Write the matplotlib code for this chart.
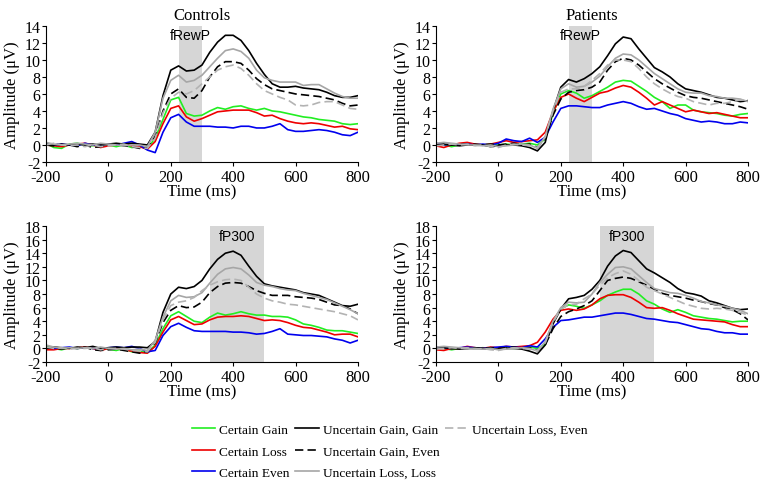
import numpy as np
import matplotlib
matplotlib.use("Agg")
import matplotlib.pyplot as plt
from matplotlib.lines import Line2D

plt.rcParams["font.family"] = "Liberation Serif"
plt.rcParams["axes.unicode_minus"] = False
plt.rcParams["axes.spines.top"] = False
plt.rcParams["axes.spines.right"] = False

# ---- data (µV), sampled every 25 ms from -200 to 800 ----
time_ms = np.arange(-200, 801, 25)

# Controls, fRewP window
cg_c1 = [0.2,-0.3,-0.4,0.1,0.2,0.0,-0.1,0.1,0.0,-0.2,0.0,-0.3,-0.2,-0.4, 0.8,3.0,5.3,5.6,3.7,3.4,3.5,4.0,4.4,4.2, 4.5,4.6,4.3,4.1,4.3,4.0,3.9,3.7,3.5,3.3, 3.2,3.0,2.9,2.8,2.5,2.4,2.5]
cl_c1 = [0.0,-0.1,-0.2,0.0,0.1,0.2,0.0,-0.3,-0.1,0.0,0.1,-0.1,-0.2,-0.5, 0.4,2.5,4.3,4.6,3.3,2.8,3.1,3.5,3.9,4.0, 4.1,4.1,4.1,3.8,3.4,3.5,3.1,2.8,2.6,2.5, 2.6,2.5,2.3,2.1,2.2,1.9,1.8]
ce_c1 = [0.1,0.0,0.1,0.0,-0.1,0.2,0.0,0.0,0.1,0.0,0.2,0.4,0.0,-0.6, -0.9,1.5,3.2,3.6,2.7,2.2,2.2,2.2,2.1,2.1, 2.0,2.2,2.2,2.0,2.0,2.2,2.5,1.8,1.6,1.6, 1.7,1.8,1.7,1.5,1.2,1.1,1.5]
ugg_c1 = [0.1,0.0,0.1,0.0,0.1,0.0,0.1,0.0,0.1,0.2,0.1,0.2,0.1,0.0, 1.5,5.8,8.8,9.3,8.7,8.8,9.4,10.9,12.1,12.9, 12.9,12.3,11.1,9.6,8.3,7.2,6.8,6.8,6.9,6.7, 6.6,6.5,6.2,5.8,5.6,5.6,5.8]
uge_c1 = [0.0,-0.1,0.0,0.0,-0.2,0.0,-0.3,-0.2,0.0,0.1,-0.1,-0.2,-0.4,-0.3, 1.0,4.0,6.0,6.6,5.6,5.5,6.4,8.0,9.2,9.8, 9.8,9.6,8.8,7.8,7.1,6.6,6.4,6.2,6.0,5.9, 5.8,5.7,5.5,5.3,4.9,4.6,4.7]
ull_c1 = [0.3,0.1,0.0,0.1,0.2,0.1,0.0,0.2,0.1,0.0,-0.1,0.0,0.0,-0.2, 1.5,5.5,7.6,8.2,7.4,7.6,8.2,9.2,10.2,11.1, 11.3,11.0,10.2,8.8,7.9,7.6,7.4,7.4,7.4,7.0, 7.1,7.1,6.6,6.1,5.7,5.5,5.5]
ule_c1 = [0.0,0.2,0.0,-0.1,0.0,-0.2,0.0,-0.2,-0.1,0.0,0.1,-0.2,-0.3,-0.4, 0.8,3.8,5.5,6.2,6.0,6.4,7.2,8.0,8.8,9.2, 9.4,9.0,8.2,7.2,6.4,6.0,5.6,5.3,4.7,4.6, 4.7,5.0,5.1,5.1,4.7,4.3,4.2]

# Patients, fRewP window
cg_p1 = [0.1,0.0,-0.2,0.0,0.2,0.0,0.0,0.1,0.0,0.1,0.0,0.1,0.2,0.0, 0.7,3.7,6.0,6.4,6.1,5.5,5.8,6.3,6.8,7.4, 7.6,7.5,6.9,6.3,5.6,5.1,4.3,4.7,4.7,4.1, 3.9,3.8,3.7,3.5,3.4,3.6,3.7]
cl_p1 = [-0.1,-0.3,0.0,0.2,0.3,0.1,0.0,0.1,0.3,0.5,0.3,0.4,0.5,0.6, 1.5,3.9,5.6,6.0,5.5,5.1,5.6,6.1,6.3,6.7, 7.0,6.8,6.2,5.5,4.7,5.1,4.7,4.3,3.9,4.1, 3.9,3.7,3.8,3.6,3.4,3.2,3.2]
ce_p1 = [0.2,0.0,0.1,0.0,0.1,0.0,0.1,0.0,0.2,0.7,0.5,0.4,0.8,0.3, 0.9,2.7,4.3,4.6,4.6,4.5,4.4,4.4,4.7,4.9, 5.1,4.9,4.5,4.2,4.3,4.0,3.7,3.5,3.1,2.9, 2.7,2.8,2.7,2.5,2.5,2.7,2.6]
ugg_p1 = [0.0,0.1,0.0,-0.1,0.0,0.0,0.0,-0.2,-0.1,0.0,0.0,-0.1,-0.3,-0.7, 0.3,4.0,6.8,7.7,7.4,7.8,8.4,9.2,10.5,11.9, 12.7,12.5,11.3,10.2,9.1,8.6,8.0,7.2,6.6,6.4, 6.2,5.9,5.6,5.5,5.3,5.1,5.2]
uge_p1 = [0.0,0.1,0.0,0.1,0.0,0.1,0.0,0.1,0.0,0.1,0.2,0.0,0.1,-0.3, 0.8,3.5,5.4,6.2,6.4,6.5,6.8,7.4,8.8,9.8, 10.2,10.0,9.4,8.6,7.8,7.2,6.7,6.2,5.8,5.6, 5.5,5.3,5.1,4.9,4.7,4.5,4.2]
ull_p1 = [0.2,0.3,0.2,0.1,0.0,0.0,-0.1,0.0,-0.2,-0.1,0.0,0.1,0.0,-0.4, 1.0,4.2,6.6,7.2,6.8,6.9,7.4,8.1,9.2,10.2, 10.7,10.6,10.0,9.2,8.4,7.8,7.2,6.6,6.2,6.1, 6.1,5.8,5.7,5.5,5.5,5.4,5.1]
ule_p1 = [-0.1,0.0,0.1,0.0,0.1,-0.1,0.0,-0.2,-0.3,0.0,0.1,0.0,-0.1,-0.3, 0.9,4.0,6.2,6.6,6.6,6.9,7.6,8.4,9.4,10.0, 10.0,9.8,9.0,8.0,7.2,6.6,6.1,5.7,5.5,5.1, 4.9,4.7,4.9,4.9,5.1,5.3,5.3]

# Controls, fP300 window
cg_c2 = [0.3,0.0,-0.2,0.1,0.0,0.1,0.0,0.1,-0.1,-0.3,0.0,-0.5,-0.4,-0.6, 0.5,2.9,4.8,5.4,4.7,4.0,3.8,4.6,5.2,4.9, 5.1,5.4,5.1,4.9,4.9,4.7,4.7,4.6,4.2,3.6, 3.4,3.1,2.7,2.6,2.6,2.4,2.2]
cl_c2 = [-0.2,-0.2,0.0,0.0,0.1,0.2,0.0,-0.3,0.0,0.1,-0.2,-0.4,-0.6,-0.7, 0.3,2.4,4.2,4.7,4.1,3.5,3.6,4.2,4.6,4.7, 4.7,4.8,4.7,4.4,4.1,4.2,4.1,3.8,3.4,3.1, 3.0,2.7,2.4,2.0,2.1,2.1,1.7]
ce_c2 = [0.1,0.0,0.1,0.2,0.0,0.1,0.0,0.0,0.1,0.2,0.1,0.3,0.0,-0.5, -0.3,1.9,3.2,3.7,3.1,2.6,2.5,2.5,2.5,2.5, 2.4,2.4,2.3,2.1,2.2,2.5,2.9,2.1,2.0,1.9, 1.9,1.8,1.7,1.4,1.2,0.8,1.2]
ugg_c2 = [0.1,0.2,0.1,0.0,0.2,0.1,0.3,0.0,0.1,0.2,0.1,0.2,0.2,0.1, 1.0,5.3,8.0,9.0,8.8,9.1,10.0,11.7,13.1,14.0, 14.3,13.7,12.1,10.6,9.5,9.2,9.0,8.8,8.6,8.2, 8.0,7.8,7.3,6.8,6.3,6.2,6.5]
uge_c2 = [0.0,0.1,-0.1,0.1,0.0,0.2,-0.2,-0.3,-0.2,-0.1,-0.3,-0.5,-0.7,-0.5, 0.8,3.8,5.6,6.3,6.0,6.1,6.8,8.2,9.1,9.6, 9.7,9.6,9.1,8.5,8.1,7.8,7.8,7.8,7.6,7.5, 7.4,7.2,6.8,6.4,6.3,5.8,5.1]
ull_c2 = [0.5,0.2,0.0,0.1,0.0,0.1,0.0,0.2,0.0,-0.1,0.0,-0.2,-0.1,-0.3, 1.2,4.6,7.0,7.8,7.5,7.6,8.2,9.6,10.9,11.7, 11.9,11.7,10.8,9.7,9.3,9.1,8.8,8.6,8.5,8.1, 7.8,7.5,7.2,6.7,6.2,5.7,5.1]
ule_c2 = [0.2,0.0,0.1,-0.1,0.0,0.0,0.1,-0.2,0.0,0.0,-0.1,-0.3,-0.4,-0.5, 0.9,4.2,6.3,6.8,7.0,7.5,8.5,9.3,9.8,10.1, 10.2,10.0,9.0,8.0,7.4,7.0,6.8,6.5,6.4,6.2, 6.0,5.8,5.6,5.4,5.1,4.8,4.2]

# Patients, fP300 window
cg_p2 = [0.1,0.0,-0.2,0.0,0.1,0.0,0.1,0.0,0.0,0.1,0.0,0.1,0.2,0.0, 0.6,3.9,5.8,6.4,6.2,5.9,6.4,7.0,7.8,8.3, 8.7,8.7,8.0,7.0,6.5,5.8,5.3,5.7,5.3,4.8, 4.6,4.4,4.3,4.1,3.9,4.0,4.0]
cl_p2 = [-0.2,-0.3,0.0,0.0,0.3,0.1,0.0,0.2,0.1,0.3,0.2,0.3,0.4,0.9, 2.4,4.3,5.6,5.8,5.6,5.8,6.4,7.3,7.8,7.9, 7.9,7.5,6.8,6.0,5.9,6.0,5.6,5.1,4.7,4.3, 4.2,4.1,4.0,3.9,3.5,3.2,3.2]
ce_p2 = [0.2,0.1,0.0,0.1,0.2,0.1,0.0,0.1,0.2,0.3,0.2,0.1,0.4,0.2, 1.4,3.1,4.1,4.2,4.4,4.6,4.6,4.8,5.0,5.2, 5.2,5.0,4.7,4.4,4.3,4.1,3.9,3.8,3.5,3.2, 2.9,2.8,2.5,2.3,2.3,2.1,2.1]
ugg_p2 = [0.0,0.1,0.0,-0.1,0.0,0.0,0.0,-0.1,-0.1,0.0,0.0,-0.1,-0.4,-0.8, 0.5,3.6,5.8,7.3,7.5,7.8,8.7,10.0,12.1,13.6, 14.4,14.1,12.9,11.7,11.1,10.4,9.7,8.8,8.2,8.0, 7.7,7.0,6.7,6.3,5.9,5.7,5.8]
uge_p2 = [0.0,0.1,0.0,0.1,0.0,0.1,0.0,0.1,0.0,0.1,0.2,0.0,0.1,-0.3, 0.5,2.9,4.7,5.4,5.8,6.3,7.0,8.5,10.0,10.3, 10.5,10.3,9.8,9.3,8.7,8.1,7.8,7.6,7.4,7.1, 6.9,6.6,6.4,6.0,5.7,5.1,4.2]
ull_p2 = [0.2,0.3,0.2,0.1,0.0,0.0,-0.1,0.0,-0.2,-0.1,0.0,0.1,0.0,-0.4, 1.0,4.0,6.0,6.8,6.7,6.8,8.0,9.7,10.9,11.9, 12.0,11.7,10.7,9.7,8.8,8.5,8.2,8.1,7.8,7.4, 6.9,6.7,6.4,6.2,5.9,5.6,5.1]
ule_p2 = [-0.1,0.0,0.1,0.0,0.1,-0.1,0.0,-0.2,-0.3,0.0,0.1,0.0,-0.1,-0.3, 0.8,3.8,5.8,6.4,6.5,7.3,8.0,9.3,10.4,11.0, 11.4,10.9,10.0,9.0,8.5,8.0,7.5,7.0,6.5,6.2, 5.9,5.8,5.9,5.8,5.6,5.3,4.9]

labels = ["Certain Gain", "Certain Loss", "Certain Even",
          "Uncertain Gain, Gain", "Uncertain Gain, Even",
          "Uncertain Loss, Loss", "Uncertain Loss, Even"]
colors = ["#22ee22", "#ee0000", "#0000ee", "black", "black", "#a6a6a6", "#b3b3b3"]
styles = ["-", "-", "-", "-", (0, (5, 2.5)), "-", (0, (5, 2.5))]

panels = [
    dict(series=[cg_c1, cl_c1, ce_c1, ugg_c1, uge_c1, ull_c1, ule_c1], title="Controls",
         win=(225, 300), name="fRewP", ymax=14, pos=[0.0605, 0.664, 0.4105, 0.2804]),
    dict(series=[cg_p1, cl_p1, ce_p1, ugg_p1, uge_p1, ull_p1, ule_p1], title="Patients",
         win=(225, 300), name="fRewP", ymax=14, pos=[0.5737, 0.664, 0.4105, 0.2804]),
    dict(series=[cg_c2, cl_c2, ce_c2, ugg_c2, uge_c2, ull_c2, ule_c2], title=None,
         win=(325, 500), name="fP300", ymax=18, pos=[0.0605, 0.2515, 0.4105, 0.2804]),
    dict(series=[cg_p2, cl_p2, ce_p2, ugg_p2, uge_p2, ull_p2, ule_p2], title=None,
         win=(325, 500), name="fP300", ymax=18, pos=[0.5737, 0.2515, 0.4105, 0.2804]),
]

fig = plt.figure(figsize=(7.6, 4.85), dpi=100)
handles = []
for k, p in enumerate(panels):
    ax = fig.add_axes(p["pos"])
    ax.axvspan(*p["win"], color="#d6d6d6", lw=0, zorder=0)
    hs = []
    for vals, c, ls, lab in zip(p["series"], colors, styles, labels):
        h, = ax.plot(time_ms, vals, color=c, ls=ls, lw=1.2, label=lab)
        hs.append(h)
    if k == 0:
        handles = hs
    ax.text(sum(p["win"]) / 2, p["ymax"] - 1.1 * p["ymax"] / 14, p["name"],
            ha="center", va="center", fontsize=10, family="Liberation Sans")
    ax.set_xlim(-200, 800)
    ax.set_ylim(-2, p["ymax"])
    ax.set_xticks(range(-200, 801, 200))
    ax.set_yticks(range(-2, p["ymax"] + 1, 2))
    ax.tick_params(length=3, width=0.8)
    ax.tick_params(axis="y", pad=1, labelsize=11.5)
    ax.tick_params(axis="x", pad=2, labelsize=12)
    ax.set_xlabel("Time (ms)", fontsize=12, labelpad=-1)
    ax.set_ylabel("Amplitude (μV)", fontsize=12, labelpad=3)
    if p["title"]:
        ax.set_title(p["title"], fontsize=12, pad=5)

blank = Line2D([], [], color="none")
leg_h = handles[:3] + handles[3:6] + [handles[6], blank, blank]
leg_l = labels[:3] + labels[3:6] + [labels[6], "", ""]
fig.legend(leg_h, leg_l, ncol=3, loc="upper left", bbox_to_anchor=(0.244, 0.138),
           frameon=False, fontsize=9.6, handlelength=1.75, handletextpad=0.3,
           columnspacing=0.4, labelspacing=0.69, borderpad=0)

fig.savefig("out.png", dpi=100, facecolor="white")
